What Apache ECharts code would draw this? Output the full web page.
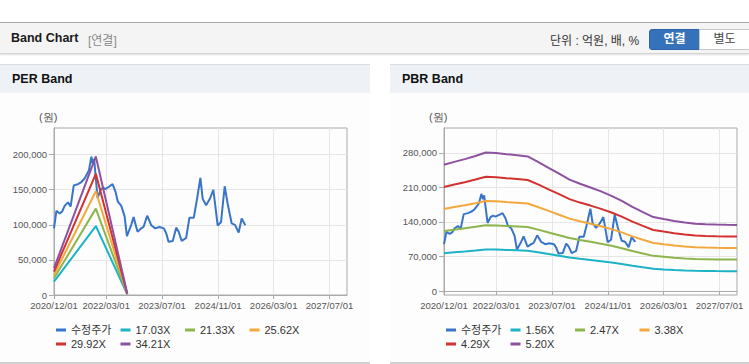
<!DOCTYPE html>
<html>
<head>
<meta charset="utf-8">
<script src="https://cdn.jsdelivr.net/npm/echarts@6/dist/echarts.min.js"></script>
<style>
  html, body { margin: 0; padding: 0; background: #fff; }
  body { width: 749px; height: 364px; position: relative; overflow: hidden;
         font-family: "Liberation Sans", "Noto Sans CJK KR", sans-serif; }
  .top { position: absolute; left: 0; top: 22px; width: 749px; height: 30px;
         background: #f4f4f4; border-top: 1px solid #a8a8a8; border-bottom: 1px solid #d4d4d4;
         box-shadow: 0 1px 2px #ddd; }
  .top .ttl { position: absolute; left: 11px; top: 8px; font-size: 12.5px; font-weight: bold; color: #1a1a1a; }
  .top .sub { position: absolute; left: 88px; top: 8px; font-size: 12px; color: #8a8a8a; }
  .top .unit { position: absolute; left: 550px; top: 8px; font-size: 12px; color: #333; }
  .btn { position: absolute; top: 6px; height: 19px; line-height: 19px; width: 49px; text-align: center;
         font-size: 12px; font-weight: bold; }
  .btn.on { left: 649px; background: #3672bb; color: #fff; border-radius: 3px 0 0 3px; border: 1px solid #2c63a6; }
  .btn.off { left: 699px; background: #fff; color: #444; border: 1px solid #c8c8c8; font-weight: normal; }
  .panel { position: absolute; top: 64px; height: 297px; background: #fdfdfd;
           border-top: 1px solid #dcdcdc; border-bottom: 2px solid #d0d0d0; }
  .panel .head { height: 28px; background: #eef2f7; position: relative; }
  .panel .head span { position: absolute; left: 12px; top: 7px; font-size: 12.5px; font-weight: bold; color: #111; }
  #chart { position: absolute; left: 0; top: 0; width: 749px; height: 364px; }
</style>
</head>
<body>
<div class="top">
  <span class="ttl">Band Chart</span>
  <span class="sub">[연결]</span>
  <span class="unit">단위 : 억원, 배, %</span>
  <div class="btn on">연결</div>
  <div class="btn off">별도</div>
</div>
<div class="panel" style="left:0;width:370px;"><div class="head"><span>PER Band</span></div></div>
<div class="panel" style="left:390px;width:359px;"><div class="head"><span>PBR Band</span></div></div>
<div id="chart"></div>
<script>
// 수정주가
var priceDates = ['2020/12/01','2020/12/22','2021/01/20','2021/02/10','2021/03/04','2021/04/02','2021/04/25',
  '2021/05/22','2021/06/28','2021/07/28','2021/08/25','2021/09/14','2021/10/02','2021/10/23','2021/11/06',
  '2021/11/16','2021/12/16','2022/01/12','2022/02/01','2022/02/24','2022/03/31','2022/04/26','2022/05/22',
  '2022/06/11','2022/07/11','2022/08/09','2022/08/29','2022/10/06','2022/10/26','2022/11/30','2023/01/01',
  '2023/01/21','2023/02/22','2023/03/29','2023/05/03','2023/06/09','2023/07/17','2023/08/07','2023/08/27',
  '2023/10/03','2023/11/02','2023/11/24','2023/12/20','2024/01/28','2024/02/25','2024/04/03','2024/05/02',
  '2024/05/31','2024/06/20','2024/07/20','2024/08/24','2024/09/21','2024/10/09','2024/10/29','2024/11/27',
  '2024/12/29','2025/01/24','2025/02/28','2025/03/29','2025/04/30','2025/05/26','2025/06/27'];
var priceValues = [95000,120000,116000,119000,127000,132000,126000,
  156000,158000,161000,166000,172000,178000,197000,186000,
  194000,138000,150000,153000,151000,155000,158000,147000,
  133000,127000,112000,84000,100000,111000,90000,95000,
  97000,113000,99500,95000,97000,95000,88000,76000,
  77000,96000,90000,77000,81500,110000,110000,137000,
  167000,137000,128000,138000,150000,126000,99000,104000,
  155000,130000,102000,100000,89000,109000,99500];

// PER band
var perNames = ['17.03X','21.33X','25.62X','29.92X','34.21X'];
var perDates = ['2020/12/01','2021/12/01','2022/09/01'];
var per1703 = [19000, 98300, 1000];
var per2133 = [23800, 123100, 1300];
var per2562 = [28600, 147900, 1500];
var per2992 = [33400, 172700, 1800];
var per3421 = [38200, 197500, 2100];

// PBR band
var pbrNames = ['1.56X','2.47X','3.38X','4.29X','5.20X'];
var pbrDates = ['2020/12/01','2021/03/01','2021/06/01','2021/09/01','2021/12/01','2022/03/01','2022/06/01',
  '2022/09/01','2022/12/01','2023/03/01','2023/06/01','2023/09/01','2023/12/01','2024/03/01','2024/06/01',
  '2024/09/01','2024/12/01','2025/03/01','2025/06/01','2025/09/01','2025/12/01','2026/03/01','2026/06/01',
  '2026/09/01','2026/12/01','2027/03/01','2027/06/01','2027/09/01','2027/12/01'];
var pbr156 = [76800,78600,80300,82200,84300,84000,83300,82700,81900,78600,75000,71400,67800,65300,63000,
  60600,57900,54900,51200,48000,45000,43800,42600,41700,41000,40700,40400,40300,40200];
var pbr247 = [121600,124500,127100,130200,133500,133000,131800,130900,129700,124500,118800,113100,107400,103300,99800,
  96000,91700,86900,81000,76000,71300,69400,67500,66000,64800,64400,64000,63800,63700];
var pbr338 = [166400,170300,173900,178100,182700,182000,180400,179100,177500,170300,162500,154700,146900,141400,136500,
  131300,125500,119000,110800,104000,97500,94900,92300,90400,88700,88100,87600,87300,87100];
var pbr429 = [211200,216200,220700,226100,231800,231000,228900,227300,225200,216200,206300,196400,186500,179400,173300,
  166700,159200,151000,140700,132000,123800,120500,117200,114700,112600,111800,111100,110800,110600];
var pbr520 = [256000,262000,267500,274000,281000,280000,277500,275500,273000,262000,250000,238000,226000,217500,210000,
  202000,193000,183000,170500,160000,150000,146000,142000,139000,136500,135500,134700,134300,134000];

var xTicks = ['2020/12/01','2022/03/01','2023/07/01','2024/11/01','2026/03/01','2027/07/01'];
var perTicks = [0, 50000, 100000, 150000, 200000];
var pbrTicks = [0, 70000, 140000, 210000, 280000];

var colors = ['#3874c8', '#1cb3c6', '#8cb54d', '#f3a83b', '#d13230', '#8e519f'];
var font = '"Liberation Sans", "Noto Sans CJK KR", sans-serif';

function ts(s) { var p = s.split('/'); return Date.UTC(+p[0], +p[1] - 1, +p[2]); }
function pad(n) { return n < 10 ? '0' + n : '' + n; }
function fmtDate(v) { var d = new Date(v); return d.getUTCFullYear() + '/' + pad(d.getUTCMonth() + 1) + '/' + pad(d.getUTCDate()); }
function comma(v) { return String(Math.round(v)).replace(/\B(?=(\d{3})+(?!\d))/g, ','); }
function pairs(dates, vals) { return dates.map(function (d, i) { return [ts(d), vals[i]]; }); }

var tickTs = xTicks.map(ts);

function xAxis(idx) {
  return {
    type: 'value', gridIndex: idx, min: ts('2020/12/01'), max: ts('2027/12/01'),
    axisLine: { lineStyle: { color: '#aaa' } },
    axisTick: { show: true, length: 4, customValues: tickTs, lineStyle: { color: '#aaa' } },
    axisLabel: { customValues: tickTs, formatter: fmtDate, margin: 6, fontSize: 9.5, color: '#555', fontFamily: font },
    splitLine: { show: true, lineStyle: { color: '#e6e6e6' } }
  };
}
function yAxis(idx, min, max, ticks) {
  return {
    type: 'value', gridIndex: idx, min: min, max: max,
    axisLine: { show: true, lineStyle: { color: '#aaa' } },
    axisTick: { show: true, length: 5, customValues: ticks, lineStyle: { color: '#aaa' } },
    axisLabel: { customValues: ticks, formatter: comma, margin: 7, fontSize: 9.5, color: '#555', fontFamily: font },
    splitLine: { show: true, lineStyle: { color: '#e6e6e6' } }
  };
}
function line(name, data, color, gi) {
  return {
    name: name, type: 'line', xAxisIndex: gi, yAxisIndex: gi, data: data,
    showSymbol: false, symbol: 'none', lineStyle: { width: 2, color: color }, itemStyle: { color: color },
    emphasis: { disabled: true }, animation: false
  };
}
function legend(left, names) {
  return {
    left: left, top: 318, width: 262, data: names, icon: 'rect',
    itemWidth: 10, itemHeight: 3, itemGap: 0,
    textStyle: { fontSize: 11, color: '#333', width: 49.5, lineHeight: 14, fontFamily: font }
  };
}

var perSeriesVals = [per1703, per2133, per2562, per2992, per3421];
var pbrSeriesVals = [pbr156, pbr247, pbr338, pbr429, pbr520];

var series = [line('수정주가', pairs(priceDates, priceValues), colors[0], 0)];
perNames.forEach(function (n, i) { series.push(line(n, pairs(perDates, perSeriesVals[i]), colors[i + 1], 0)); });
series.push(line('수정주가', pairs(priceDates, priceValues), colors[0], 1));
pbrNames.forEach(function (n, i) { series.push(line(n, pairs(pbrDates, pbrSeriesVals[i]), colors[i + 1], 1)); });

var myChart = echarts.init(document.getElementById('chart'), null, { renderer: 'svg' });
myChart.setOption({
  animation: false,
  textStyle: { fontFamily: font },
  grid: [
    { left: 54, top: 128, width: 293, height: 167, show: true, borderColor: '#aaa', borderWidth: 1, outerBoundsMode: 'none' },
    { left: 444, top: 128, width: 293, height: 167, show: true, borderColor: '#aaa', borderWidth: 1, outerBoundsMode: 'none' }
  ],
  xAxis: [xAxis(0), xAxis(1)],
  yAxis: [yAxis(0, 0, 238000, perTicks), yAxis(1, -8100, 330700, pbrTicks)],
  legend: [legend(51, ['수정주가'].concat(perNames)), legend(441, ['수정주가'].concat(pbrNames))],
  graphic: [
    { type: 'text', left: 39, top: 111, style: { text: '(원)', fontSize: 11, fill: '#555', font: '11px ' + font } },
    { type: 'text', left: 429, top: 111, style: { text: '(원)', fontSize: 11, fill: '#555', font: '11px ' + font } }
  ],
  series: series
});
</script>
</body>
</html>
